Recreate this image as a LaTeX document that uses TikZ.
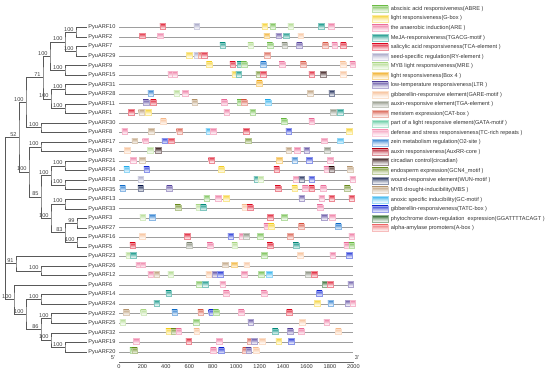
\documentclass[tikz,border=0pt]{standalone}
\usepackage{fontspec}
\setmainfont{Liberation Sans}
\usetikzlibrary{calc, positioning}

% motif colours
\definecolor{cABRE}{HTML}{7DC35B}
\definecolor{cGbox}{HTML}{F5D33B}
\definecolor{cARE}{HTML}{EE7FA6}
\definecolor{cTGACG}{HTML}{1A9A8C}
\definecolor{cTCA}{HTML}{E0283C}
\definecolor{cRY}{HTML}{A8A8C8}
\definecolor{cMRE}{HTML}{B5DC94}
\definecolor{cBoxfour}{HTML}{F2B233}
\definecolor{cLTR}{HTML}{6A5AA8}
\definecolor{cGARE}{HTML}{F7C39C}
\definecolor{cTGA}{HTML}{8E9484}
\definecolor{cCAT}{HTML}{DC6A5A}
\definecolor{cGATA}{HTML}{5CC99E}
\definecolor{cTCrich}{HTML}{F59BBA}
\definecolor{cOtwo}{HTML}{2E7FD0}
\definecolor{cAuxRR}{HTML}{B81D2E}
\definecolor{cCirc}{HTML}{3D1F1F}
\definecolor{cGCN}{HTML}{7D9A3A}
\definecolor{cWUN}{HTML}{1F2D5A}
\definecolor{cMBS}{HTML}{BFA27F}
\definecolor{cGC}{HTML}{3CB6EE}
\definecolor{cTATC}{HTML}{2D3FD8}
\definecolor{cGGA}{HTML}{2F6B2F}
\definecolor{cAbox}{HTML}{EF7B7B}

% clade: name, x, child1, child2, bootstrap
\newcommand\clade[5]{%
    \path ($(#3)!.5!(#4)$) coordinate (#1m);
    \coordinate (#1) at (#1m -| #2,0);
    \draw[branch] (#3) -| (#1) |- (#4);
    \node[boot] (#1b) at (#1) {#5};
}
% motifs of one gene: gene, list of position/colour
\newcommand\motifs[2]{%
    \foreach \p/\c in {#2} {
        \node[motif=c\c] (m#1-\p) at ({119+0.1172*\p},0 |- ARF#1) {};
    }
}

\begin{document}
\begin{tikzpicture}[x=1pt, y=-1pt, font=\fontsize{5.6}{6}\selectfont,
    branch/.style={draw=black!65, line width=0.5pt},
    leaf/.style={anchor=west, inner sep=1.2pt, text=black!80},
    boot/.style={anchor=south east, inner sep=0.8pt, xshift=-1.5pt, text=black!75},
    gene/.style={draw=black!38, line width=0.7pt},
    motif/.style={rectangle, inner sep=0pt, minimum width=5.5pt, minimum height=5.5pt,
        yshift=1.2pt, draw=#1!55, line width=0.2pt,
        top color=#1, bottom color=white, middle color=#1!45},
    swatch/.style={rectangle, inner sep=0pt, minimum width=16pt, minimum height=6.5pt,
        draw=#1!50, line width=0.2pt, top color=#1, bottom color=white, middle color=#1!40},
    legtext/.style={anchor=west, inner sep=0.5pt, text=black!80}]
\useasboundingbox (0,0) rectangle (550,373);

% gene names and rows
\foreach \g [count=\i from 0] in {10,2,7,29,9,15,31,28,11,1,30,8,17,4,21,34,18,35,13,33,3,27,16,5,23,26,12,6,14,24,22,25,32,19,20} {
    \pgfmathsetmacro\yrow{27.5+9.54*\i}
    \draw[gene] (119,\yrow) -- (353.4,\yrow);
    \node[leaf] (ARF\g) at (87,\yrow) {PyuARF\g};
}

% tree
\clade{c102}{76}{ARF10}{ARF2}{100}
\clade{c729}{76}{ARF7}{ARF29}{100}
\clade{c1029}{65}{c102}{c729}{100}
\clade{c915}{65}{ARF9}{ARF15}{100}
\clade{c1015}{50}{c1029}{c915}{100}
\clade{c3128}{65}{ARF31}{ARF28}{100}
\clade{c111}{65}{ARF11}{ARF1}{100}
\clade{c311}{51}{c3128}{c111}{100}
\clade{c71}{43}{c1015}{c311}{71}
\clade{c308}{41}{ARF30}{ARF8}{100}
\clade{cA}{26}{c71}{c308}{100}
\clade{c174}{41}{ARF17}{ARF4}{100}
\clade{c2134}{65}{ARF21}{ARF34}{100}
\clade{c1835}{65}{ARF18}{ARF35}{100}
\clade{c2135}{51}{c2134}{c1835}{100}
\clade{c1333}{65}{ARF13}{ARF33}{100}
\clade{c327}{77}{ARF3}{ARF27}{99}
\clade{c165}{77}{ARF16}{ARF5}{100}
\clade{c83}{65}{c327}{c165}{83}
\clade{c135}{51}{c1333}{c83}{100}
\clade{c85}{41}{c2135}{c135}{85}
\clade{cB}{29}{c174}{c85}{100}
\clade{c52}{19}{cA}{cB}{52}
\clade{c2612}{41}{ARF26}{ARF12}{100}
\clade{c91}{16}{ARF23}{c2612}{91}
\clade{c1424}{41}{ARF14}{ARF24}{100}
\clade{c2225}{51}{ARF22}{ARF25}{100}
\clade{c1920}{65}{ARF19}{ARF20}{100}
\clade{c3220}{51}{ARF32}{c1920}{100}
\clade{c86}{41}{c2225}{c3220}{86}
\clade{c1420}{26}{c1424}{c86}{100}
\clade{c620}{14}{ARF6}{c1420}{100}
\coordinate (root) at (c52 -| 5,0);
\draw[branch] (c52) -| (root) |- (c620) (root) |- (c91);

% cis-elements
\motifs{10}{373/TCA,663/RY,1242/Gbox,1311/ABRE,1464/MRE,1726/TGACG,1811/ARE}
\motifs{2}{196/TCA,350/ARE,1260/Boxfour,1362/LTR,1425/TGACG,1549/GARE}
\motifs{7}{884/TGACG,1123/MRE,1288/ABRE,1413/TGA,1538/LTR,1760/CAT,1840/ARE,1914/TCA}
\motifs{29}{600/Gbox,663/RY,702/CAT,728/TCA,1265/CAT}
\motifs{9}{770/Gbox,970/TCA,1032/TGACG,1066/ABRE,1231/Otwo,1390/ARE,1572/CAT,1911/GARE,1993/ARE}
\motifs{15}{441/ARE,475/ARE,987/Gbox,1021/TGACG,1191/GCN,1231/TCA,1644/TCA,1743/Circ,1911/GARE}
\motifs{31}{1197/Boxfour}
\motifs{28}{270/Otwo,492/MRE,566/ARE,1629/MBS,1814/WUN}
\motifs{11}{230/LTR,293/TCA,645/MBS,896/ARE,1032/ABRE,1066/CAT,1271/GC}
\motifs{1}{105/TCA,191/MBS,247/Gbox,918/ARE,1140/ABRE,1828/TGA,1885/TGACG}
\motifs{30}{378/GARE,1407/ABRE,1644/ARE}
\motifs{8}{48/ARE,276/MBS,515/CAT,765/GC,805/ARE,1083/TCA,1447/TATC,1965/Gbox}
\motifs{17}{134/MBS,225/ARE,390/TATC,446/TCA,1100/GCN,1749/ARE,1885/GC}
\motifs{4}{71/GARE,264/MRE,333/Circ,1447/MBS,1521/ARE,1600/LTR,1777/TGA}
\motifs{21}{122/ARE,196/MBS,788/TCA,1368/Boxfour,1498/Otwo,1624/TATC,1800/ARE}
\motifs{34}{65/GC,236/TATC,873/Gbox,1345/TCA,1771/ARE,1814/Circ,1970/MBS}
\motifs{18}{185/RY,1174/TGACG,1208/MRE,1510/ARE,1558/WUN,1644/TATC,1993/ARE}
\motifs{35}{31/Otwo,185/WUN,429/LTR,1356/TCA,1498/Gbox,1589/ARE,1644/TCA,1743/ARE,1947/GCN}
\motifs{13}{748/ABRE,844/ARE,913/Gbox,1558/LTR,1729/ARE,1814/TCA,1985/TCA}
\motifs{33}{503/GCN,680/MRE,719/TGACG,1072/GARE,1117/TCA,1714/ARE}
\motifs{3}{202/MRE,282/Otwo,1288/TCA,1407/ABRE,1749/LTR,1820/ARE}
\motifs{27}{1260/ARE,1299/Gbox,1555/CAT,1871/Otwo}
\motifs{16}{196/GARE,583/TCA,952/TATC,1049/ARE,1083/TGA,1203/ABRE,1459/CAT,1985/ARE}
\motifs{5}{117/TCA,600/TGA,776/ARE,987/MRE,1288/TCA,1510/TGACG,1942/ARE,1985/ABRE}
\motifs{23}{83/MRE,122/TGACG,1237/ABRE,1544/GARE,1822/ARE,1965/TATC}
\motifs{26}{168/ARE,202/ARE,907/MBS,981/Boxfour,1089/GARE}
\motifs{12}{270/ARE,321/MBS,441/MRE,765/GARE,822/LTR,862/TATC,1066/ARE,1214/ABRE,1282/GC,1615/TGA,1663/TCA}
\motifs{6}{685/ABRE,736/TGACG,884/ARE,1757/GGA,1800/TCA,1976/LTR}
\motifs{14}{424/TGACG,913/ARE,1237/ARE,1709/TATC}
\motifs{24}{321/TGACG,1692/Gbox,1806/Otwo,1956/LTR,1993/ARE}
\motifs{22}{60/MBS,208/MRE,475/Otwo,697/CAT,788/TATC,827/ABRE,1043/ARE,1453/TCA}
\motifs{25}{31/MRE,657/ABRE,1123/LTR,1561/GARE,1771/ARE}
\motifs{32}{424/Gbox,469/GCN,509/ARE,663/GARE,1333/TGACG,1459/LTR,1555/ARE,1871/GARE}
\motifs{19}{145/ARE,594/TCA,856/ARE,1117/CAT,1151/LTR,1220/GARE,1362/Gbox,1470/TATC}
\motifs{20}{117/ABRE,134/GCN,805/ARE,873/TATC,1078/CAT,1106/LTR,1168/GARE}

% scale
\draw[black!60, line width=0.5pt] (119,362) -- (353.4,362);
\foreach \v in {0,200,...,2000}
    \draw[black!60, line width=0.4pt] ({119+0.1172*\v},362) -- ++(0,1.3) node[below, inner sep=1pt, text=black!80] (t\v) {\v};
\node[text=black!80] (five) at (113,358) {5'};
\node[text=black!80] (three) at (357,358) {3'};

% legend
\foreach \c/\t [count=\i from 0] in {ABRE/abscisic acid responsiveness(ABRE ),
    Gbox/light responsiveness(G-box ),
    ARE/the anaerobic induction(ARE ),
    TGACG/MeJA-responsiveness(TGACG-motif ),
    TCA/salicylic acid responsiveness(TCA-element ),
    RY/seed-specific regulation(RY-element ),
    MRE/MYB light responsiveness(MRE ),
    Boxfour/light responsiveness(Box 4 ),
    LTR/low-temperature responsiveness(LTR ),
    GARE/gibberellin-responsive element(GARE-motif ),
    TGA/auxin-responsive element(TGA-element ),
    CAT/meristem expression(CAT-box ),
    GATA/part of a light responsive element(GATA-motif ),
    TCrich/defense and stress responsiveness(TC-rich repeats ),
    Otwo/zein metabolism regulation(O2-site ),
    AuxRR/auxin responsiveness(AuxRR-core ),
    Circ/circadian control(circadian),
    GCN/endosperm expression(GCN4\_motif ),
    WUN/wound-responsive element(WUN-motif ),
    MBS/MYB drought-inducibility(MBS ),
    GC/anoxic specific inducibility(GC-motif ),
    TATC/gibberellin-responsiveness(TATC-box ),
    GGA/phytochrome down-regulation\ \ expression(GGATTTTACAGT ),
    Abox/alpha-amylase promoters(A-box )} {
    \node[swatch=c\c] (sw\i) at (380,{9+9.53*\i}) {};
    \node[legtext, right=2pt of sw\i] (lg\i) {\t};
}
\end{tikzpicture}
\end{document}
